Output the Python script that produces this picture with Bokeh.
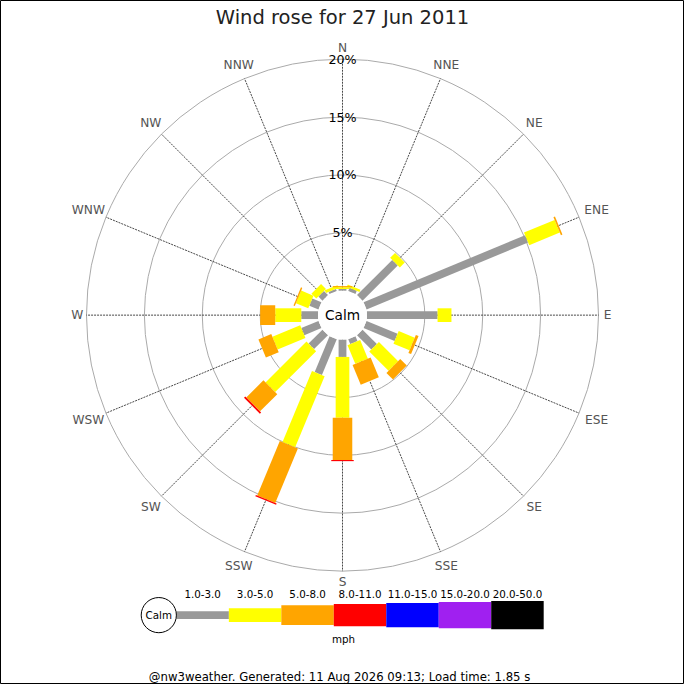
import numpy as np
from bokeh.plotting import figure
from bokeh.models import Range1d
from bokeh.core.properties import value
from bokeh.embed import file_html
from bokeh.resources import INLINE

title = "Wind rose for 27 Jun 2011"
footer = "@nw3weather. Generated: 11 Aug 2026 09:13; Load time: 1.85 s"
directions = ["N", "NNE", "NE", "ENE", "E", "ESE", "SE", "SSE",
              "S", "SSW", "SW", "WSW", "W", "WNW", "NW", "NNW"]
speed_bins = ["1.0-3.0", "3.0-5.0", "5.0-8.0", "8.0-11.0",
              "11.0-15.0", "15.0-20.0", "20.0-50.0"]
bin_colors = ["#999999", "#ffff00", "#ffa500", "#ff0000",
              "#0000ff", "#a020f0", "#000000"]
ring_pcts = [5, 10, 15, 20]

# % of the day per direction (N..NNW) in each speed bin (mph)
freq_1_3 = [0.15, 0.3, 4.3, 15.1, 6.1, 2.9, 1.75, 0.45,
            1.5, 3.35, 1.7, 1.6, 1.45, 0.85, 0.5, 0.2]
freq_3_5 = [0.15, 0.2, 0.6, 2.86, 1.2, 1.5, 2.35, 1.75,
            5.25, 6.65, 5.0, 2.6, 2.25, 1.15, 0.6, 0.25]
freq_5_8 = [0.1, 0.0, 0.0, 0.14, 0.0, 0.25, 0.8, 1.85,
            3.65, 5.1, 2.1, 1.2, 1.3, 0.12, 0.0, 0.0]
freq_8_11 = [0.0, 0.0, 0.0, 0.0, 0.0, 0.0, 0.0, 0.0,
             0.1, 0.12, 0.15, 0.0, 0.0, 0.0, 0.0, 0.0]
freq_11_15 = [0.0, 0.0, 0.0, 0.0, 0.0, 0.0, 0.0, 0.0,
              0.0, 0.0, 0.0, 0.0, 0.0, 0.0, 0.0, 0.0]
freq_15_20 = [0.0, 0.0, 0.0, 0.0, 0.0, 0.0, 0.0, 0.0,
              0.0, 0.0, 0.0, 0.0, 0.0, 0.0, 0.0, 0.0]
freq_20_50 = [0.0, 0.0, 0.0, 0.0, 0.0, 0.0, 0.0, 0.0,
              0.0, 0.0, 0.0, 0.0, 0.0, 0.0, 0.0, 0.0]

classes = np.array([freq_1_3, freq_3_5, freq_5_8, freq_8_11,
                    freq_11_15, freq_15_20, freq_20_50])

# layout (units: pixels of a 700px picture, origin at rose centre, y up)
CALM_R = 25
PX_PER_PCT = 11.85
bar_thick = [8, 14, 20, 23, 25, 27, 29]
FONT = value("DejaVu Sans")
S = 684 / 700  # screen px per unit


def rad(pct):
    return CALM_R + PX_PER_PCT * np.asarray(pct, dtype=float)


def fs(px):
    return value("%.1fpx" % (px * S))


p = figure(width=684, height=684, x_range=Range1d(-350, 350),
           y_range=Range1d(-378, 322), toolbar_location=None,
           output_backend="svg", min_border=0)
p.axis.visible = False
p.grid.visible = False
p.outline_line_color = "black"
p.outline_line_width = 1
p.background_fill_color = "white"

# rings
outer = rad(ring_pcts[-1])
p.circle(x=[0] * len(ring_pcts), y=[0] * len(ring_pcts), radius=rad(ring_pcts),
         fill_color=None, line_color="#aaaaaa", line_width=1)

# direction spokes
theta = np.pi / 2 - np.arange(len(directions)) * np.pi / 8
p.segment(x0=CALM_R * np.cos(theta), y0=CALM_R * np.sin(theta),
          x1=outer * np.cos(theta), y1=outer * np.sin(theta),
          line_color="#333333", line_width=0.9, line_dash="2 1")

# bars
cum = np.cumsum(classes, axis=0)
xs, ys, lens, thick, angs, cols = [], [], [], [], [], []
for k in range(len(speed_bins)):
    for i in range(len(directions)):
        v = classes[k][i]
        if v <= 0:
            continue
        r0, r1 = rad(cum[k][i] - v), rad(cum[k][i])
        rc = (r0 + r1) / 2
        xs.append(rc * np.cos(theta[i]))
        ys.append(rc * np.sin(theta[i]))
        lens.append(r1 - r0)
        thick.append(bar_thick[k])
        angs.append(theta[i])
        cols.append(bin_colors[k])
p.rect(x=xs, y=ys, width=lens, height=thick, angle=angs,
       fill_color=cols, line_color=None)

# calm centre
p.circle(x=[0], y=[0], radius=CALM_R, fill_color="white", line_color=None)
p.text(x=[0], y=[0], text=["Calm"], text_font=FONT, text_font_size=fs(14),
       text_align="center", text_baseline="middle", text_color="black")

# ring labels
p.text(x=[0] * len(ring_pcts), y=rad(ring_pcts), text=["%d%%" % r for r in ring_pcts],
       text_font=FONT, text_font_size=fs(13), text_align="center",
       text_baseline="middle", text_color="black")

# direction labels
hw = np.array([4.4 * len(d) for d in directions])
lr = 267 + hw * np.abs(np.cos(theta)) + 6 * np.abs(np.sin(theta))
p.text(x=lr * np.cos(theta), y=lr * np.sin(theta), text=directions,
       text_font=FONT, text_font_size=fs(12.5), text_align="center",
       text_baseline="middle", text_color="#555555")

# title
p.text(x=[0], y=[322 - 17], text=[title], text_font=FONT, text_font_size=fs(20),
       text_align="center", text_baseline="middle", text_color="#222222")

# legend
leg_y = 322 - 629
seg_w = 53.7
leg_x0 = 180 - 350
leg_cx = leg_x0 + seg_w * (np.arange(len(speed_bins)) + 0.5)
p.rect(x=leg_cx, y=[leg_y] * len(speed_bins), width=seg_w, height=bar_thick,
       fill_color=bin_colors, line_color=None)
p.text(x=leg_cx, y=[322 - 607] * len(speed_bins), text=speed_bins,
       text_font=FONT, text_font_size=fs(10.5), text_align="center",
       text_baseline="middle", text_color="black")
p.circle(x=[leg_x0 - 18], y=[leg_y], radius=18, fill_color="white",
         line_color="black", line_width=1)
p.text(x=[leg_x0 - 18], y=[leg_y], text=["Calm"], text_font=FONT,
       text_font_size=fs(10.5), text_align="center", text_baseline="middle",
       text_color="black")
p.text(x=[1], y=[322 - 653], text=["mph"], text_font=FONT, text_font_size=fs(10.5),
       text_align="center", text_baseline="middle", text_color="black")

# footer
p.text(x=[-3], y=[322 - 692], text=[footer], text_font=FONT, text_font_size=fs(12),
       text_align="center", text_baseline="middle", text_color="black")

open("out.html", "w").write(file_html(p, INLINE))
